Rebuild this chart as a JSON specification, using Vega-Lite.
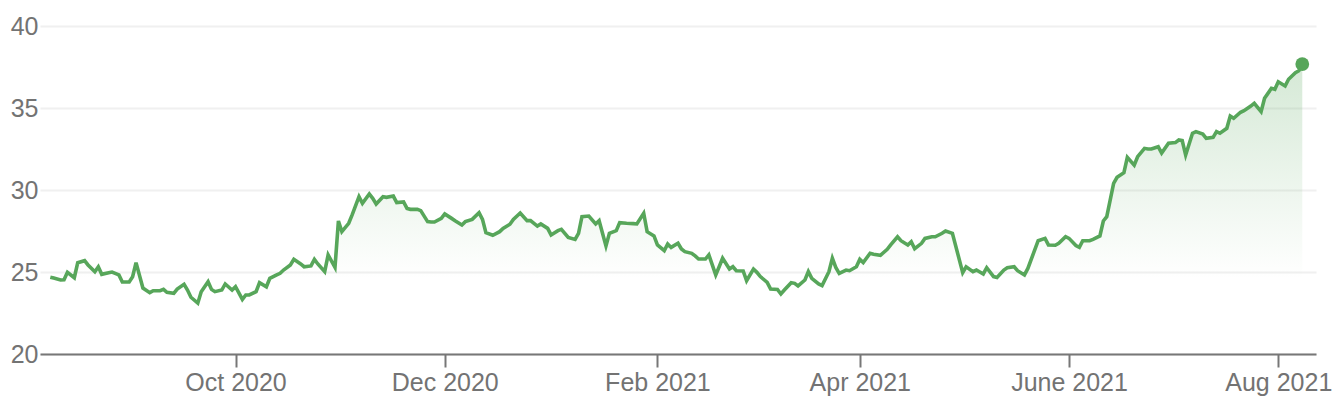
{
  "$schema": "https://vega.github.io/schema/vega-lite/v6.json",
  "width": 1276,
  "height": 328,
  "autosize": {"type": "none"},
  "padding": {"left": 40, "top": 26, "right": 28, "bottom": 52},
  "background": "white",
  "config": {
    "view": {"stroke": null},
    "axis": {"labelFont": "Liberation Sans", "labelFontSize": 25, "labelColor": "#737373"}
  },
  "datasets": {
    "prices": [
      {"d":"2020-08-08","v":24.68},{"d":"2020-08-09","v":24.63},{"d":"2020-08-11","v":24.51},{"d":"2020-08-12","v":24.53},
      {"d":"2020-08-13","v":24.98},{"d":"2020-08-15","v":24.65},{"d":"2020-08-16","v":25.57},{"d":"2020-08-18","v":25.69},
      {"d":"2020-08-19","v":25.43},{"d":"2020-08-21","v":25.02},{"d":"2020-08-22","v":25.32},{"d":"2020-08-23","v":24.86},
      {"d":"2020-08-25","v":24.96},{"d":"2020-08-26","v":25.00},{"d":"2020-08-28","v":24.82},{"d":"2020-08-29","v":24.39},
      {"d":"2020-08-31","v":24.39},{"d":"2020-09-01","v":24.71},{"d":"2020-09-02","v":25.57},{"d":"2020-09-04","v":24.02},
      {"d":"2020-09-06","v":23.74},{"d":"2020-09-07","v":23.86},{"d":"2020-09-09","v":23.86},{"d":"2020-09-10","v":23.94},
      {"d":"2020-09-11","v":23.76},{"d":"2020-09-13","v":23.70},{"d":"2020-09-14","v":23.96},{"d":"2020-09-16","v":24.25},
      {"d":"2020-09-17","v":23.90},{"d":"2020-09-18","v":23.46},{"d":"2020-09-20","v":23.10},{"d":"2020-09-21","v":23.80},
      {"d":"2020-09-23","v":24.41},{"d":"2020-09-24","v":23.94},{"d":"2020-09-25","v":23.80},{"d":"2020-09-27","v":23.90},
      {"d":"2020-09-28","v":24.27},{"d":"2020-09-30","v":23.90},{"d":"2020-10-01","v":24.10},{"d":"2020-10-03","v":23.33},
      {"d":"2020-10-04","v":23.60},{"d":"2020-10-05","v":23.60},{"d":"2020-10-07","v":23.80},{"d":"2020-10-08","v":24.35},
      {"d":"2020-10-10","v":24.10},{"d":"2020-10-11","v":24.61},{"d":"2020-10-13","v":24.82},{"d":"2020-10-14","v":24.92},
      {"d":"2020-10-15","v":25.12},{"d":"2020-10-17","v":25.43},{"d":"2020-10-18","v":25.77},{"d":"2020-10-20","v":25.49},
      {"d":"2020-10-21","v":25.32},{"d":"2020-10-23","v":25.37},{"d":"2020-10-24","v":25.77},{"d":"2020-10-25","v":25.49},
      {"d":"2020-10-27","v":25.02},{"d":"2020-10-28","v":26.04},{"d":"2020-10-30","v":25.28},{"d":"2020-10-31","v":28.11},
      {"d":"2020-11-01","v":27.46},{"d":"2020-11-03","v":27.97},{"d":"2020-11-04","v":28.48},{"d":"2020-11-06","v":29.59},
      {"d":"2020-11-07","v":29.19},{"d":"2020-11-09","v":29.76},{"d":"2020-11-10","v":29.49},{"d":"2020-11-11","v":29.15},
      {"d":"2020-11-13","v":29.59},{"d":"2020-11-14","v":29.55},{"d":"2020-11-16","v":29.63},{"d":"2020-11-17","v":29.23},
      {"d":"2020-11-19","v":29.27},{"d":"2020-11-20","v":28.88},{"d":"2020-11-21","v":28.82},{"d":"2020-11-23","v":28.82},
      {"d":"2020-11-24","v":28.74},{"d":"2020-11-26","v":28.07},{"d":"2020-11-27","v":28.05},{"d":"2020-11-28","v":28.05},
      {"d":"2020-11-30","v":28.27},{"d":"2020-12-01","v":28.54},{"d":"2020-12-03","v":28.27},{"d":"2020-12-04","v":28.13},
      {"d":"2020-12-06","v":27.87},{"d":"2020-12-07","v":28.07},{"d":"2020-12-09","v":28.21},{"d":"2020-12-11","v":28.62},
      {"d":"2020-12-12","v":28.21},{"d":"2020-12-13","v":27.40},{"d":"2020-12-15","v":27.24},{"d":"2020-12-17","v":27.46},
      {"d":"2020-12-18","v":27.66},{"d":"2020-12-20","v":27.91},{"d":"2020-12-21","v":28.21},{"d":"2020-12-23","v":28.60},
      {"d":"2020-12-25","v":28.13},{"d":"2020-12-26","v":28.13},{"d":"2020-12-28","v":27.80},{"d":"2020-12-29","v":27.93},
      {"d":"2020-12-31","v":27.66},{"d":"2021-01-01","v":27.26},{"d":"2021-01-03","v":27.52},{"d":"2021-01-04","v":27.60},
      {"d":"2021-01-06","v":27.11},{"d":"2021-01-08","v":26.99},{"d":"2021-01-09","v":27.36},{"d":"2021-01-10","v":28.37},
      {"d":"2021-01-12","v":28.41},{"d":"2021-01-14","v":27.93},{"d":"2021-01-15","v":28.13},{"d":"2021-01-17","v":26.59},
      {"d":"2021-01-18","v":27.36},{"d":"2021-01-20","v":27.52},{"d":"2021-01-21","v":28.01},{"d":"2021-01-23","v":27.97},
      {"d":"2021-01-25","v":27.95},{"d":"2021-01-26","v":27.93},{"d":"2021-01-28","v":28.58},{"d":"2021-01-29","v":27.46},
      {"d":"2021-01-31","v":27.20},{"d":"2021-02-01","v":26.65},{"d":"2021-02-03","v":26.30},{"d":"2021-02-04","v":26.71},
      {"d":"2021-02-05","v":26.50},{"d":"2021-02-07","v":26.75},{"d":"2021-02-08","v":26.40},{"d":"2021-02-09","v":26.24},
      {"d":"2021-02-11","v":26.14},{"d":"2021-02-12","v":25.98},{"d":"2021-02-13","v":25.79},{"d":"2021-02-15","v":25.79},
      {"d":"2021-02-16","v":26.04},{"d":"2021-02-18","v":24.82},{"d":"2021-02-19","v":25.32},{"d":"2021-02-20","v":25.84},
      {"d":"2021-02-22","v":25.18},{"d":"2021-02-23","v":25.32},{"d":"2021-02-24","v":25.08},{"d":"2021-02-26","v":25.06},
      {"d":"2021-02-27","v":24.47},{"d":"2021-03-01","v":25.18},{"d":"2021-03-02","v":24.98},{"d":"2021-03-03","v":24.72},
      {"d":"2021-03-05","v":24.37},{"d":"2021-03-06","v":23.96},{"d":"2021-03-08","v":23.94},{"d":"2021-03-09","v":23.66},
      {"d":"2021-03-10","v":23.90},{"d":"2021-03-12","v":24.35},{"d":"2021-03-13","v":24.31},{"d":"2021-03-14","v":24.15},
      {"d":"2021-03-16","v":24.51},{"d":"2021-03-17","v":25.02},{"d":"2021-03-18","v":24.61},{"d":"2021-03-20","v":24.27},
      {"d":"2021-03-21","v":24.17},{"d":"2021-03-23","v":25.02},{"d":"2021-03-24","v":25.84},{"d":"2021-03-25","v":25.28},
      {"d":"2021-03-26","v":24.92},{"d":"2021-03-28","v":25.12},{"d":"2021-03-29","v":25.08},{"d":"2021-03-31","v":25.32},
      {"d":"2021-04-01","v":25.77},{"d":"2021-04-02","v":25.57},{"d":"2021-04-04","v":26.14},{"d":"2021-04-05","v":26.08},
      {"d":"2021-04-07","v":26.02},{"d":"2021-04-09","v":26.38},{"d":"2021-04-10","v":26.65},{"d":"2021-04-12","v":27.15},
      {"d":"2021-04-13","v":26.91},{"d":"2021-04-15","v":26.65},{"d":"2021-04-16","v":26.85},{"d":"2021-04-17","v":26.42},
      {"d":"2021-04-19","v":26.75},{"d":"2021-04-20","v":27.05},{"d":"2021-04-22","v":27.15},{"d":"2021-04-23","v":27.15},
      {"d":"2021-04-25","v":27.36},{"d":"2021-04-26","v":27.50},{"d":"2021-04-28","v":27.36},{"d":"2021-05-01","v":24.96},
      {"d":"2021-05-02","v":25.32},{"d":"2021-05-04","v":25.02},{"d":"2021-05-05","v":25.12},{"d":"2021-05-07","v":24.88},
      {"d":"2021-05-08","v":25.26},{"d":"2021-05-10","v":24.72},{"d":"2021-05-11","v":24.66},{"d":"2021-05-13","v":25.12},
      {"d":"2021-05-14","v":25.26},{"d":"2021-05-16","v":25.32},{"d":"2021-05-17","v":25.08},{"d":"2021-05-19","v":24.82},
      {"d":"2021-05-20","v":25.22},{"d":"2021-05-23","v":26.91},{"d":"2021-05-25","v":27.05},{"d":"2021-05-26","v":26.65},
      {"d":"2021-05-28","v":26.63},{"d":"2021-05-29","v":26.75},{"d":"2021-05-31","v":27.15},{"d":"2021-06-01","v":27.05},
      {"d":"2021-06-03","v":26.61},{"d":"2021-06-04","v":26.50},{"d":"2021-06-05","v":26.91},{"d":"2021-06-07","v":26.91},
      {"d":"2021-06-08","v":26.99},{"d":"2021-06-10","v":27.20},{"d":"2021-06-11","v":28.11},{"d":"2021-06-12","v":28.37},
      {"d":"2021-06-14","v":30.41},{"d":"2021-06-15","v":30.77},{"d":"2021-06-17","v":31.06},{"d":"2021-06-18","v":31.99},
      {"d":"2021-06-20","v":31.52},{"d":"2021-06-21","v":32.03},{"d":"2021-06-23","v":32.54},{"d":"2021-06-24","v":32.50},
      {"d":"2021-06-25","v":32.50},{"d":"2021-06-27","v":32.64},{"d":"2021-06-28","v":32.25},{"d":"2021-06-30","v":32.85},
      {"d":"2021-07-02","v":32.89},{"d":"2021-07-03","v":33.05},{"d":"2021-07-04","v":33.01},{"d":"2021-07-05","v":32.13},
      {"d":"2021-07-07","v":33.46},{"d":"2021-07-08","v":33.56},{"d":"2021-07-10","v":33.41},{"d":"2021-07-11","v":33.15},
      {"d":"2021-07-13","v":33.21},{"d":"2021-07-14","v":33.56},{"d":"2021-07-15","v":33.46},{"d":"2021-07-17","v":33.76},
      {"d":"2021-07-18","v":34.51},{"d":"2021-07-19","v":34.37},{"d":"2021-07-21","v":34.74},{"d":"2021-07-22","v":34.84},
      {"d":"2021-07-24","v":35.12},{"d":"2021-07-25","v":35.29},{"d":"2021-07-27","v":34.78},{"d":"2021-07-28","v":35.59},
      {"d":"2021-07-30","v":36.20},{"d":"2021-07-31","v":36.14},{"d":"2021-08-01","v":36.60},{"d":"2021-08-03","v":36.34},
      {"d":"2021-08-04","v":36.75},{"d":"2021-08-06","v":37.15},{"d":"2021-08-07","v":37.27},{"d":"2021-08-08","v":37.68}
    ],
    "last": [{"d":"2021-08-08","v":37.68}]
  },
  "data": {"name": "prices"},
  "encoding": {
    "x": {
      "field": "d",
      "type": "temporal",
      "scale": {
        "type": "utc",
        "nice": false,
        "domain": [
          {"year":2020,"month":8,"date":5,"utc":true},
          {"year":2021,"month":8,"date":12,"utc":true}
        ]
      },
      "axis": {
        "title": null,
        "grid": false,
        "values": [
          {"year":2020,"month":10,"date":1,"utc":true},
          {"year":2020,"month":12,"date":1,"utc":true},
          {"year":2021,"month":2,"date":1,"utc":true},
          {"year":2021,"month":4,"date":1,"utc":true},
          {"year":2021,"month":6,"date":1,"utc":true},
          {"year":2021,"month":8,"date":1,"utc":true}
        ],
        "labelExpr": "utcFormat(datum.value, '%m') == '06' ? 'June ' + utcFormat(datum.value, '%Y') : utcFormat(datum.value, '%b %Y')",
        "domainColor": "#777777",
        "domainWidth": 2,
        "tickColor": "#777777",
        "tickWidth": 2,
        "tickSize": 13,
        "labelPadding": 3,
        "labelFlush": false,
        "labelOverlap": false
      }
    },
    "y": {
      "field": "v",
      "type": "quantitative",
      "scale": {"domain": [20, 40], "nice": false, "zero": false},
      "axis": {
        "title": null,
        "values": [20, 25, 30, 35, 40],
        "domain": false,
        "ticks": false,
        "tickSize": 0,
        "labelPadding": 2,
        "gridColor": "#f0f0f0",
        "gridWidth": 2
      }
    }
  },
  "layer": [
    {
      "mark": {
        "type": "area",
        "interpolate": "linear",
        "color": {
          "gradient": "linear",
          "x1": 0, "y1": 0, "x2": 0, "y2": 1,
          "stops": [
            {"offset": 0, "color": "rgba(87,166,90,0.25)"},
            {"offset": 0.74, "color": "rgba(87,166,90,0)"}
          ]
        }
      },
      "encoding": {"y2": {"datum": 20}}
    },
    {
      "mark": {"type": "line", "color": "#57a65a", "strokeWidth": 3.6}
    },
    {
      "data": {"name": "last"},
      "mark": {"type": "point", "filled": true, "size": 190, "color": "#57a65a", "opacity": 1}
    }
  ]
}
